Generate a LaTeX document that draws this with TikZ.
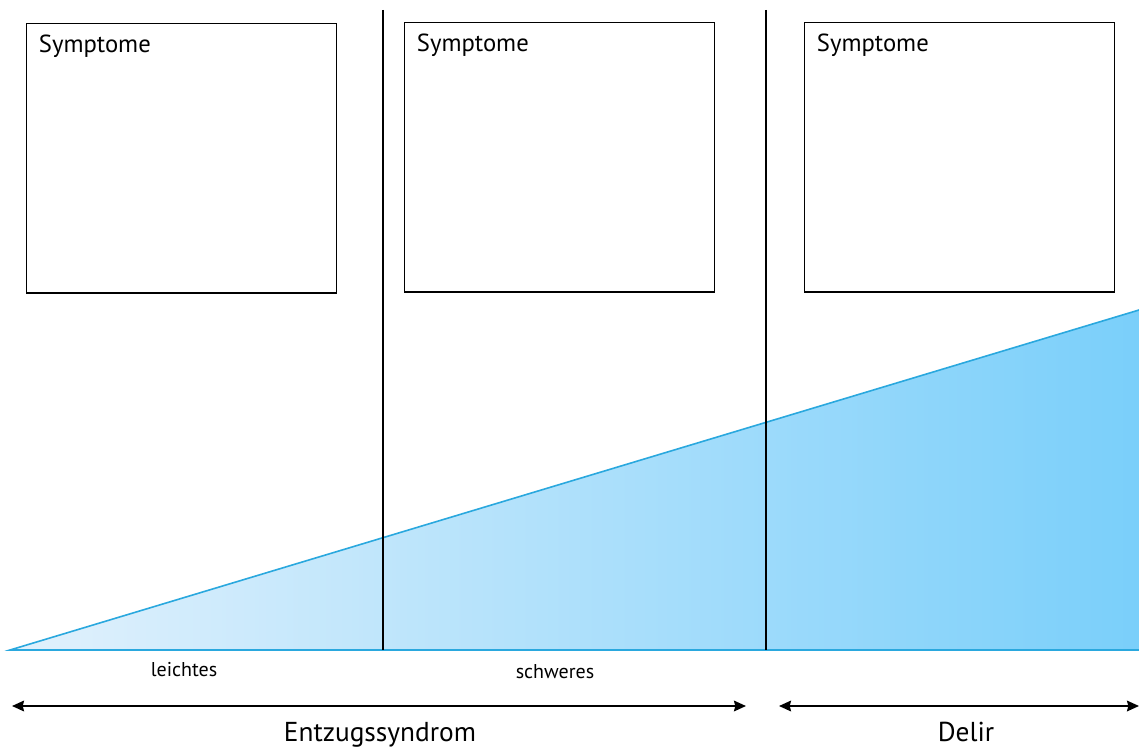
\documentclass[tikz,border=0pt]{standalone}
\usepackage{fontspec}
\setmainfont{PT Sans}
\usetikzlibrary{arrows.meta}
\definecolor{triline}{HTML}{2AA8DE}
\definecolor{trileft}{HTML}{E2F1FC}
\definecolor{triright}{HTML}{7ACFFA}
\tikzset{
  symbox/.style={draw=black, line width=0.9pt, minimum width=232.5pt, minimum height=202pt, inner sep=0pt},
  boxlabel/.style={anchor=north west, font=\fontsize{18.5}{20}\selectfont, inner sep=0pt},
  divider/.style={line width=1.4pt, black},
  spanarrow/.style={line width=1.5pt, {Stealth[length=9pt,width=8pt,inset=1pt]}-{Stealth[length=9pt,width=8pt,inset=1pt]}},
  small/.style={font=\fontsize{15}{17}\selectfont},
  big/.style={font=\fontsize{20.5}{23}\selectfont, anchor=base, inner sep=0pt}
}
\begin{document}
\begin{tikzpicture}[x=0.75pt,y=-0.75pt]
\useasboundingbox (0,0) rectangle (1139,749);
% triangle
\coordinate (tl) at (10,650);
\coordinate (tr) at (1139,310);
\coordinate (br) at (1139,650);
\shade[left color=trileft, right color=triright] (tl) -- (tr) -- (br) -- cycle;
\draw[triline, line width=1.2pt] (tr) -- (tl) -- (br);
% dividers
\coordinate (d1t) at (383,10); \coordinate (d1b) at (383,650);
\coordinate (d2t) at (766,10); \coordinate (d2b) at (766,650);
\draw[divider] (d1t) -- (d1b);
\draw[divider] (d2t) -- (d2b);
% boxes
\node[symbox, anchor=north west] (b1) at (26,23) {};
\node[symbox, anchor=north west] (b2) at (404,22) {};
\node[symbox, anchor=north west] (b3) at (804,22) {};
\node[boxlabel] (l1) at ([xshift=9.5pt,yshift=-9pt]b1.north west) {Symptome};
\node[boxlabel] (l2) at ([xshift=9.5pt,yshift=-9pt]b2.north west) {Symptome};
\node[boxlabel] (l3) at ([xshift=9.5pt,yshift=-9pt]b3.north west) {Symptome};
% labels
\node[small] (le) at (184,670) {leichtes};
\node[small] (sc) at (555,672) {schweres};
% arrows
\coordinate (a1l) at (12,706); \coordinate (a1r) at (746,706);
\coordinate (a2l) at (779,706); \coordinate (a2r) at (1139,706);
\draw[spanarrow] (a1l) -- (a1r);
\draw[spanarrow] (a2l) -- (a2r);
\node[big] (ent) at (380,741) {Entzugssyndrom};
\node[big] (del) at (966,741) {Delir};
\end{tikzpicture}
\end{document}
